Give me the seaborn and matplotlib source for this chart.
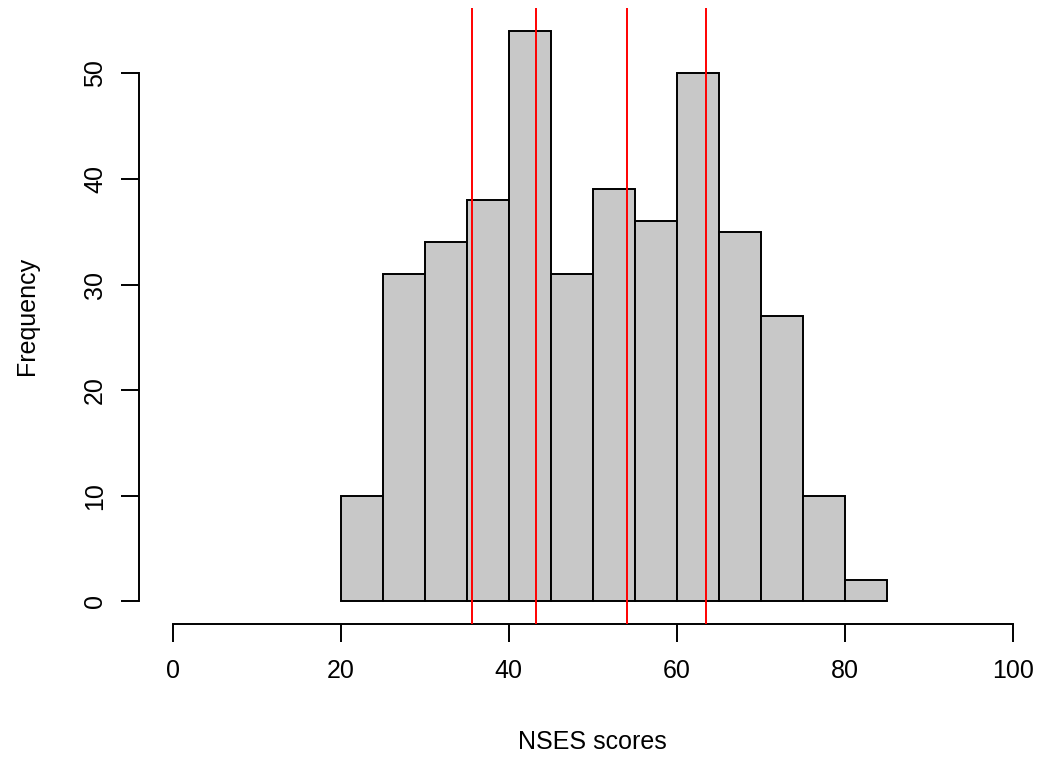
import numpy as np
import pandas as pd
import matplotlib
matplotlib.use("Agg")
import matplotlib.pyplot as plt
import seaborn as sns

# Histogram of NSES scores: bin edges and counts per 5-point bin
bin_edges = [20, 25, 30, 35, 40, 45, 50, 55, 60, 65, 70, 75, 80, 85]
counts = [10, 31, 34, 38, 54, 31, 39, 36, 50, 35, 27, 10, 2]
# Quantile cut points marked with vertical lines
cut_points = [35.6, 43.2, 54.1, 63.5]
x_ticks = [0, 20, 40, 60, 80, 100]
y_ticks = [0, 10, 20, 30, 40, 50]

sns.set_style("white")
plt.rcParams["font.family"] = ["Liberation Sans", "DejaVu Sans"]
plt.rcParams.update({
    "text.color": "black",
    "axes.labelcolor": "black",
    "xtick.color": "black",
    "ytick.color": "black",
})

W, H = 1041, 758
fig = plt.figure(figsize=(W / 100, H / 100), dpi=100)
left, right = 139.1, 1046.3
top, bottom = 8.1, 624.3
ax = fig.add_axes([left / W, (H - bottom) / H, (right - left) / W, (bottom - top) / H])

mids = [(a + b) / 2 for a, b in zip(bin_edges[:-1], bin_edges[1:])]
df = pd.DataFrame({"score": mids, "n": counts})
sns.histplot(data=df, x="score", weights="n", bins=bin_edges, ax=ax,
             color="#C8C8C8", edgecolor="black", linewidth=1.4, alpha=1)

for c in cut_points:
    ax.axvline(c, color="red", linewidth=1.4, zorder=5)

ymax = max(counts)
ax.set_xlim(-4, 104)
ax.set_ylim(-0.04 * ymax, 1.04 * ymax)

for s in ["top", "right"]:
    ax.spines[s].set_visible(False)
for s in ["left", "bottom"]:
    ax.spines[s].set_linewidth(1.4)
    ax.spines[s].set_color("black")
ax.spines["bottom"].set_bounds(0, 100)
ax.spines["left"].set_bounds(0, 50)

ax.set_xticks(x_ticks)
ax.set_yticks(y_ticks)
ax.tick_params(axis="both", direction="out", length=13, width=1.4, color="black",
               labelsize=18, bottom=True, left=True)
ax.tick_params(axis="x", pad=12)
ax.tick_params(axis="y", pad=10)
plt.setp(ax.get_yticklabels(), rotation=90, va="center")

ax.set_xlabel("NSES scores", fontsize=18, labelpad=34)
ax.set_ylabel("Frequency", fontsize=18, labelpad=32)
ax.grid(False)

fig.savefig("out.png", dpi=100)
